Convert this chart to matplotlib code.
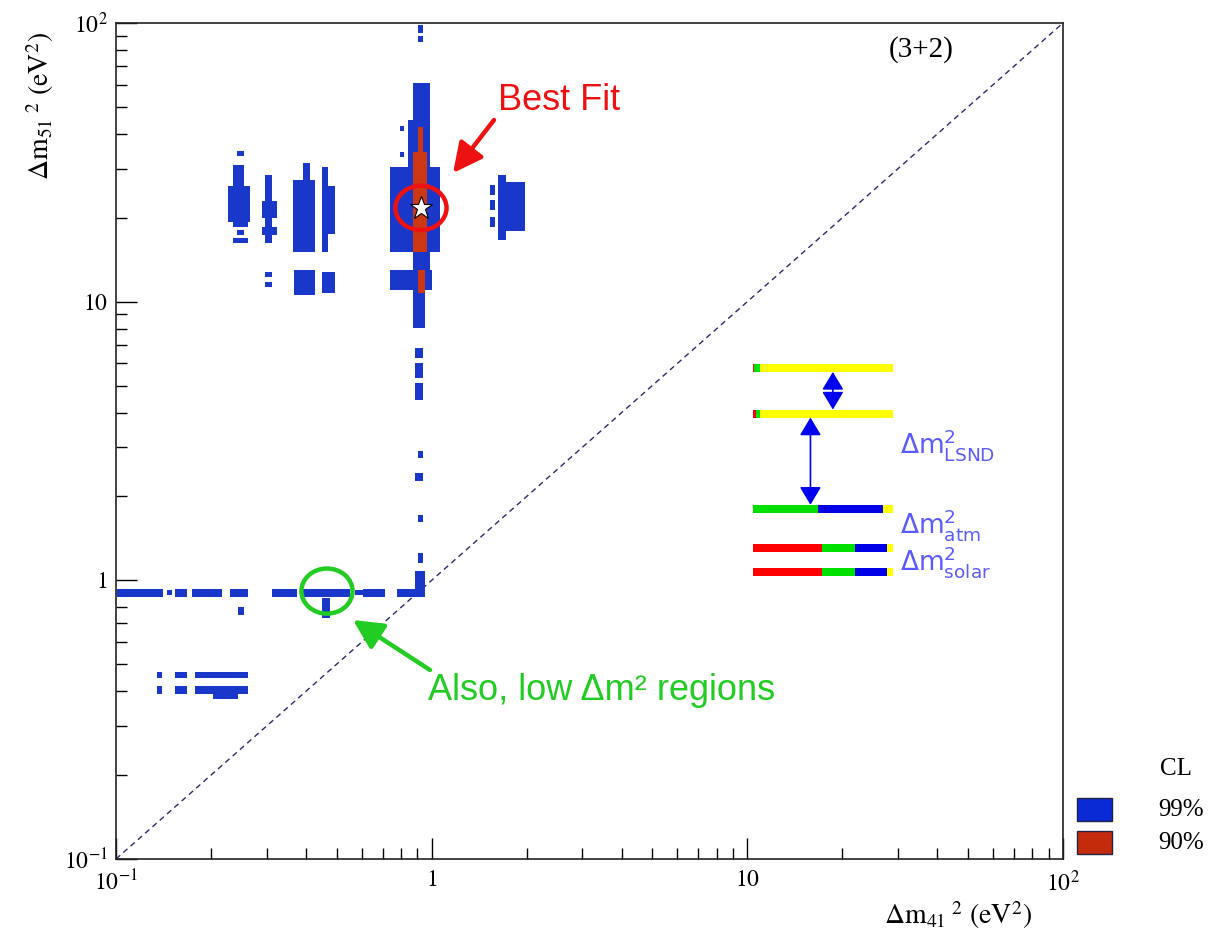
import matplotlib
matplotlib.use('Agg')
import matplotlib.pyplot as plt
import numpy as np
from matplotlib.patches import Ellipse, Rectangle, FancyArrowPatch
from matplotlib.ticker import LogLocator, NullFormatter

plt.rcParams['font.family'] = ['Liberation Serif', 'DejaVu Serif']
plt.rcParams['mathtext.fontset'] = 'stix'

# -----------------------------------------------------------
# Allowed regions, boxes as (dm41_lo, dm41_hi, dm51_lo, dm51_hi) in eV^2
cl99_cluster_a = [(0.242, 0.2545, 33.4, 34.6), (0.235, 0.2545, 26.0, 31.0),
                  (0.226, 0.266, 19.3, 26.0), (0.235, 0.262, 18.5, 19.3),
                  (0.242, 0.2545, 17.3, 18.1), (0.2348, 0.262, 16.2, 16.9)]
cl99_cluster_b = [(0.2965, 0.312, 16.2, 28.5), (0.290, 0.3236, 20.0, 23.0),
                  (0.290, 0.3236, 17.3, 18.5), (0.2965, 0.312, 12.25, 12.8),
                  (0.2965, 0.312, 11.29, 11.77)]
cl99_cluster_c = [(0.391, 0.411, 27.3, 31.5), (0.364, 0.427, 15.1, 27.3),
                  (0.449, 0.470, 15.1, 30.4), (0.470, 0.494, 17.5, 26.0),
                  (0.3663, 0.4269, 10.6, 13.0), (0.449, 0.494, 10.7, 12.8)]
cl99_column = [(0.905, 0.939, 92.0, 98.4), (0.905, 0.939, 85.5, 90.0),
               (0.8727, 0.9876, 44.9, 60.9), (0.841, 0.9876, 30.4, 44.9),
               (0.794, 0.815, 41.0, 42.8), (0.794, 0.815, 33.0, 34.4),
               (0.738, 1.062, 15.1, 30.4), (0.8727, 0.9876, 13.0, 15.1),
               (0.738, 1.0, 11.0, 13.0), (0.8727, 0.9524, 8.04, 11.0),
               (0.8855, 0.9385, 6.3, 6.82), (0.8855, 0.9385, 5.3, 6.0),
               (0.8855, 0.9385, 4.44, 5.1), (0.905, 0.9385, 2.75, 2.9),
               (0.8855, 0.9385, 2.28, 2.42), (0.905, 0.9385, 1.62, 1.72),
               (0.905, 0.9385, 1.15, 1.25), (0.8855, 0.9524, 0.93, 1.08)]
cl99_right = [(1.622, 1.72, 16.6, 28.5), (1.72, 1.975, 18.0, 26.8),
              (1.53, 1.587, 24.2, 26.2), (1.53, 1.587, 21.3, 23.1),
              (1.53, 1.587, 18.5, 20.1)]
cl99_band = [(0.1007, 0.1409, 0.872, 0.931), (0.1450, 0.1504, 0.885, 0.92),
             (0.1538, 0.1679, 0.872, 0.931), (0.1741, 0.2168, 0.872, 0.931),
             (0.2298, 0.2620, 0.872, 0.931), (0.3120, 0.3744, 0.872, 0.931),
             (0.3827, 0.5510, 0.872, 0.931), (0.5715, 0.6059, 0.885, 0.92),
             (0.6059, 0.7114, 0.872, 0.931), (0.7765, 0.9524, 0.872, 0.931),
             (0.2436, 0.2545, 0.751, 0.803), (0.4492, 0.4762, 0.733, 0.865)]
cl99_low = [(0.1349, 0.1399, 0.447, 0.469), (0.1538, 0.1679, 0.447, 0.469),
            (0.1780, 0.2620, 0.447, 0.469), (0.1349, 0.1399, 0.39, 0.418),
            (0.1538, 0.1679, 0.39, 0.418), (0.1780, 0.2620, 0.39, 0.418),
            (0.2029, 0.2436, 0.375, 0.39)]
cl90_boxes = [(0.905, 0.939, 34.4, 42.4), (0.8727, 0.9663, 15.1, 34.4),
              (0.905, 0.952, 10.7, 13.0)]

best_fit = (0.925, 21.7)
low_region = (0.466, 0.915)
diag = [0.1, 100]

major_ticks = [0.1, 1, 10, 100]
tick_labels = [r'$10^{-1}$', r'$1$', r'$10$', r'$10^{2}$']

# inset level scheme: level heights (arb. units) and flavour content
levels = [2.55, 1.98, 0.79, 0.30, 0.0]
frac_e = [0.01, 0.02, 0.0, 0.49, 0.49]
frac_mu = [0.04, 0.03, 0.465, 0.24, 0.24]
frac_tau = [0.0, 0.0, 0.465, 0.23, 0.23]
frac_s = [0.95, 0.95, 0.07, 0.04, 0.04]
level_labels = [r'$\Delta\mathrm{m}^{2}_{\mathrm{LSND}}$',
                r'$\Delta\mathrm{m}^{2}_{\mathrm{atm}}$',
                r'$\Delta\mathrm{m}^{2}_{\mathrm{solar}}$']
level_label_y = [1.59, 0.59, 0.125]

BLUE = '#1937c8'
RED = '#cd3714'

# -----------------------------------------------------------
fig = plt.figure(figsize=(12.2, 9.39), dpi=100)
ax = fig.add_axes([0.09508, 0.0852, 0.77623, 0.89031])
ax.set_xscale('log')
ax.set_yscale('log')


def draw_boxes(boxes, color):
    x0 = [b[0] for b in boxes]
    w = [b[1] - b[0] for b in boxes]
    y0 = [b[2] for b in boxes]
    h = [b[3] - b[2] for b in boxes]
    ax.bar(x0, h, width=w, bottom=y0, align='edge', color=color, linewidth=0, zorder=2)


for group in [cl99_cluster_a, cl99_cluster_b, cl99_cluster_c, cl99_column,
              cl99_right, cl99_band, cl99_low]:
    draw_boxes(group, BLUE)
draw_boxes(cl90_boxes, RED)

ax.plot(diag, diag, color='#2a2a6a', lw=1.0, dashes=(4, 3), zorder=1)
ax.plot(*best_fit, marker='*', ms=17, mfc='white', mec='black', mew=0.8, zorder=5)

ax.set_xlim(0.1, 100)
ax.set_ylim(0.1, 100)
ax.set_xticks(major_ticks, labels=tick_labels)
ax.set_yticks(major_ticks, labels=tick_labels)
for axis in [ax.xaxis, ax.yaxis]:
    axis.set_minor_locator(LogLocator(base=10, subs=np.arange(2, 10)))
    axis.set_minor_formatter(NullFormatter())
ax.tick_params(which='both', direction='in', top=False, right=False, width=1.0,
               labelsize=17)
ax.tick_params(which='major', length=15)
ax.tick_params(which='minor', length=8)
ax.tick_params(axis='x', pad=8)
ax.tick_params(axis='y', pad=6)
for sp in ax.spines.values():
    sp.set_linewidth(1.2)
    sp.set_color('#222222')


def to_axes(pt):
    return ax.transAxes.inverted().transform(ax.transData.transform(pt))


ax.add_patch(Ellipse(to_axes(best_fit), 0.054, 0.053, transform=ax.transAxes,
                     fill=False, edgecolor='#ee1111', lw=3.2, zorder=6))
ax.add_patch(Ellipse(to_axes(low_region), 0.054, 0.054, transform=ax.transAxes,
                     fill=False, edgecolor='#22cc22', lw=3.2, zorder=6))

ax.text(0.85, 0.968, '(3+2)', transform=ax.transAxes, ha='center', va='center',
        fontsize=21)

# annotations
sans = ['Liberation Sans', 'DejaVu Sans']
fig.text(498 / 1220, 1 - 100 / 939, 'Best Fit', color='#ee1111', fontsize=26,
         family=sans, ha='left', va='center')
ax.annotate('', xy=(453, 939 - 173), xytext=(494, 939 - 120), xycoords='figure pixels',
            textcoords='figure pixels',
            arrowprops=dict(arrowstyle='-|>,head_length=0.9,head_width=0.45',
                            mutation_scale=20, color='#ee1111', lw=3.2,
                            shrinkA=0, shrinkB=0))
fig.text(428 / 1220, 1 - 690 / 939, 'Also, low Δm² regions', color='#22cc22',
         fontsize=26, family=sans, ha='left', va='center')
ax.annotate('', xy=(353, 939 - 620), xytext=(430, 939 - 670), xycoords='figure pixels',
            textcoords='figure pixels',
            arrowprops=dict(arrowstyle='-|>,head_length=0.9,head_width=0.45',
                            mutation_scale=20, color='#22cc22', lw=3.2,
                            shrinkA=0, shrinkB=0))

# axis labels
fig.text(40 / 1220, 1 - 180 / 939, r'$\Delta\mathrm{m}_{51}{}^{\ 2}\ (\mathrm{eV}^{2})$',
         rotation=90, ha='center', va='bottom', fontsize=20)
fig.text(1032 / 1220, 1 - 915 / 939, r'$\Delta\mathrm{m}_{41}{}^{\ 2}\ (\mathrm{eV}^{2})$',
         ha='right', va='center', fontsize=20)

# inset level scheme
ins = fig.add_axes([0.6107, 0.3717, 0.2131, 0.2503])
ins.set_xlim(-8 / 140, 252 / 140)
ins.set_ylim(-0.225, 2.7125)
ins.axis('off')
ins.patch.set_alpha(0)
left = np.zeros(len(levels))
for frac, col in [(frac_e, '#ff0000'), (frac_mu, '#00e000'), (frac_tau, '#0000e6'),
                  (frac_s, '#ffff00')]:
    ins.barh(levels, frac, left=left, height=0.1, color=col, linewidth=0)
    left = left + np.array(frac)
for xa, ya, yb in [(0.57, levels[1] + 0.05, levels[0] - 0.05),
                   (0.41, levels[2] + 0.05, levels[1] - 0.05)]:
    ins.add_patch(FancyArrowPatch((xa, ya), (xa, yb),
                                  arrowstyle='<|-|>,head_length=1.0,head_width=0.6',
                                  mutation_scale=11, color='#0000ee', lw=1.2,
                                  shrinkA=0, shrinkB=0))
for lab, ly in zip(level_labels, level_label_y):
    ins.text(1.05, ly, lab, color='#5a5aff', fontsize=19, ha='left', va='center',
             math_fontfamily='dejavusans')

# CL legend
fig.text(1160 / 1220, 1 - 769 / 939, 'CL', fontsize=18, ha='left', va='center')
for py, col, lab in [(810, '#0a2ad6', '99%'), (843, '#c42a0c', '90%')]:
    fig.add_artist(Rectangle((1077 / 1220, 1 - (py + 11) / 939), 35 / 1220, 23 / 939,
                             transform=fig.transFigure, facecolor=col,
                             edgecolor='#222244', lw=1))
    fig.text(1158 / 1220, 1 - py / 939, lab, fontsize=18, ha='left', va='center')

fig.savefig('out.png', dpi=100, facecolor='white')
